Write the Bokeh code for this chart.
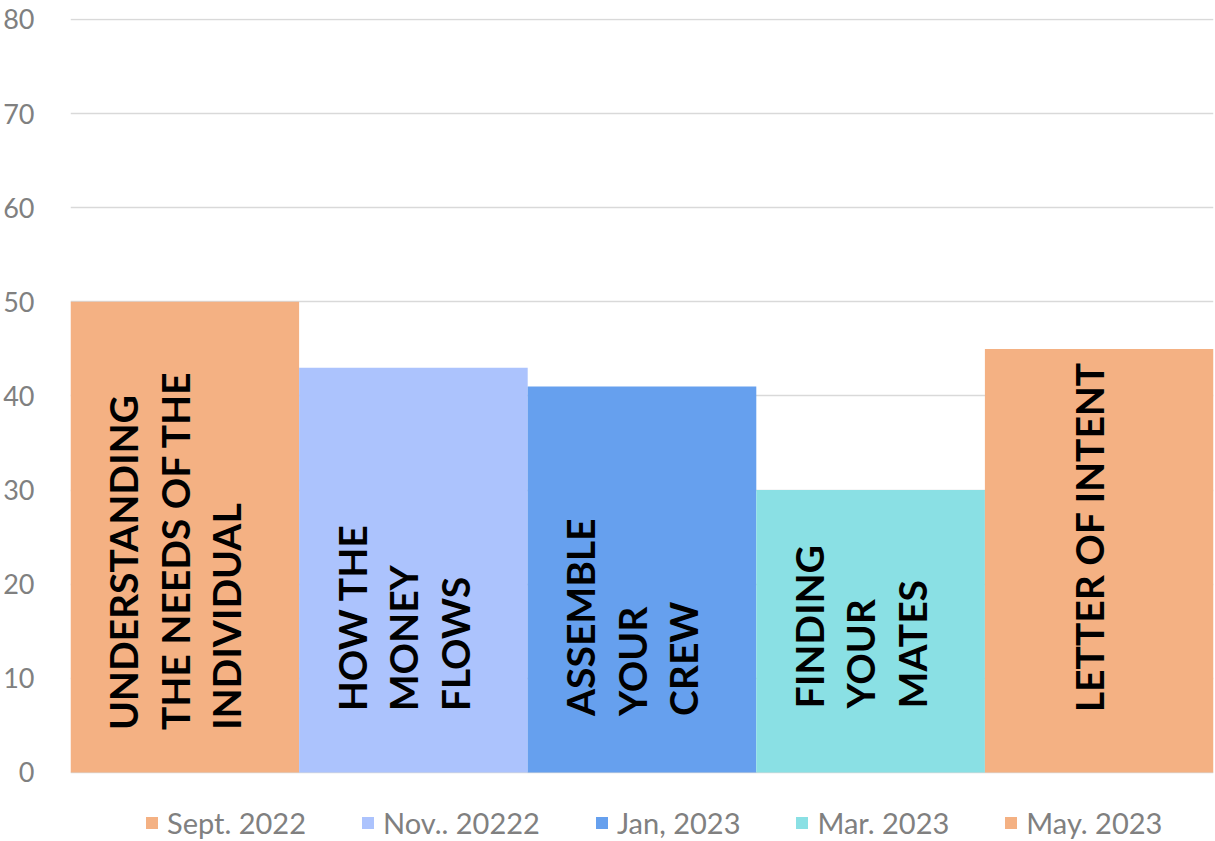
import math
from bokeh.plotting import figure
from bokeh.models import ColumnDataSource, Range1d, FactorRange, Legend, LegendItem, FixedTicker
from bokeh.transform import dodge
from bokeh.core.properties import value
from bokeh.embed import file_html
from bokeh.resources import INLINE

# ---- data ----
series = ["Sept. 2022", "Nov.. 20222", "Jan, 2023", "Mar. 2023", "May. 2023"]
scores = [50, 43, 41, 30, 45]
topics = [
    "UNDERSTANDING\nTHE NEEDS OF THE\nINDIVIDUAL",
    "HOW THE\nMONEY\nFLOWS",
    "ASSEMBLE\nYOUR\nCREW",
    "FINDING\nYOUR\nMATES",
    "LETTER OF INTENT",
]
y_ticks = [0, 10, 20, 30, 40, 50, 60, 70, 80]

# ---- style ----
colors = ["#F4B183", "#ACC3FD", "#66A0EE", "#8AE0E4", "#F4B183"]
label_anchor = [4.5, 6.5, 6.0, 6.8, 6.4]

src = ColumnDataSource(dict(series=series, score=scores, topic=topics,
                            color=colors, label_y=label_anchor))

# frame extends below 0 to leave room for the legend drawn inside it
p = figure(width=1214, height=840, output_backend="svg", toolbar_location=None,
           x_range=FactorRange(factors=series), y_range=Range1d(-7.23, 80.1),
           min_border_left=69, min_border_right=1, min_border_top=18,
           min_border_bottom=0)
p.outline_line_color = None
p.background_fill_color = "white"
p.border_fill_color = "white"

bars = p.vbar(x="series", top="score", bottom=0, width=1.0, source=src,
              fill_color="color", line_color=None)

p.text(x=dodge("series", -0.045, range=p.x_range), y="label_y", text="topic",
       source=src, angle=math.pi / 2, text_align="left", text_baseline="middle",
       text_font=value("Lato"), text_font_style="bold", text_font_size="39px",
       text_line_height=1.12, text_color="black")

# y axis
p.yaxis.ticker = FixedTicker(ticks=y_ticks)
p.yaxis.axis_line_color = None
p.yaxis.major_tick_line_color = None
p.yaxis.minor_tick_line_color = None
p.yaxis.major_label_text_color = "#808080"
p.yaxis.major_label_text_font = "Lato"
p.yaxis.major_label_text_font_size = "27px"
p.yaxis.major_label_standoff = 30

p.ygrid.grid_line_color = "#D9D9D9"
p.ygrid.grid_line_width = 1.5
p.xgrid.grid_line_color = None
p.xaxis.visible = False

items = [LegendItem(label=s, renderers=[bars], index=i) for i, s in enumerate(series)]
legend = Legend(items=items, orientation="horizontal", location=(74, 0),
                label_text_font="Lato", label_text_font_size="29px",
                label_text_color="#808080", glyph_width=15, glyph_height=15,
                label_standoff=8, spacing=54, padding=0, margin=0,
                border_line_color=None, background_fill_alpha=0)
p.add_layout(legend, "center")

open("out.html", "w").write(file_html(p, INLINE))
